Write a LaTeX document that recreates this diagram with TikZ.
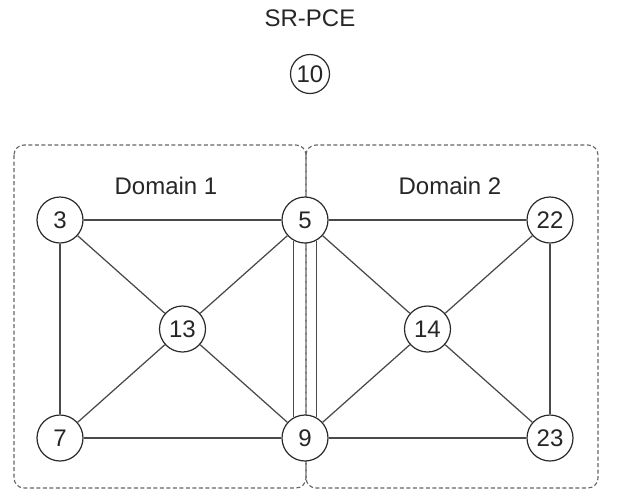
\documentclass[tikz,border=0pt]{standalone}
\usepackage{fontspec}
\setmainfont{Liberation Sans}
\usetikzlibrary{positioning, calc}
\definecolor{NodeGray}{HTML}{2A2A2A}
\definecolor{LinkGray}{HTML}{4A4A4A}
\definecolor{BoxGray}{HTML}{666666}

\begin{document}
\begin{tikzpicture}[x=1pt, y=-1pt,
node distance = 218pt and 245pt, on grid,
     N/.style = {draw=NodeGray, circle, fill=white, minimum size=46pt, inner sep=0pt,
                 line width=1.2pt, font=\fontsize{24}{28}\selectfont, text=black!85},
   dom/.style = {draw=BoxGray, dash pattern=on 4pt off 2.5pt, rounded corners=10pt, line width=1.1pt},
   txt/.style = {font=\fontsize{24}{28}\selectfont, text=black!85},
    every edge/.style={draw=LinkGray, line width=1.25pt}
                        ]
\useasboundingbox (0,0) rectangle (619,491);
% domains
\draw[dom] (14,145) rectangle (306,488);
\draw[dom] (306,145) rectangle (598,488);
\node[txt] (dom1) at (166,186) {Domain 1};
\node[txt] (dom2) at (450,186) {Domain 2};

% routers
\node[N] (n3) at (60,220) {3};
\node[N, right =of n3]  (n5)  {5};
\node[N, right =of n5]  (n22) {22};
\node[N, below =of n3]  (n7)  {7};
\node[N, below =of n5]  (n9)  {9};
\node[N, below =of n22] (n23) {23};
\node[N] (n13) at ($(n3)!0.5!(n9)$)  {13};
\node[N] (n14) at ($(n5)!0.5!(n23)$) {14};

% controller
\node[N, minimum size=39pt] (pce) at (310,74) {10};
\node[txt, above =56pt of pce] (pcelabel) {SR-PCE};

\draw   (n3)  edge (n5)
        (n3)  edge (n7)
        (n3)  edge (n13)
        (n13) edge (n5)
        (n13) edge (n7)
        (n13) edge (n9)
        (n7)  edge (n9)
        (n5)  edge (n22)
        (n5)  edge (n14)
        (n14) edge (n22)
        (n14) edge (n9)
        (n14) edge (n23)
        (n22) edge (n23)
        (n9)  edge (n23)
        (n5.-119) edge (n9.119)
        (n5.-61)  edge (n9.61);
\end{tikzpicture}
\end{document}
